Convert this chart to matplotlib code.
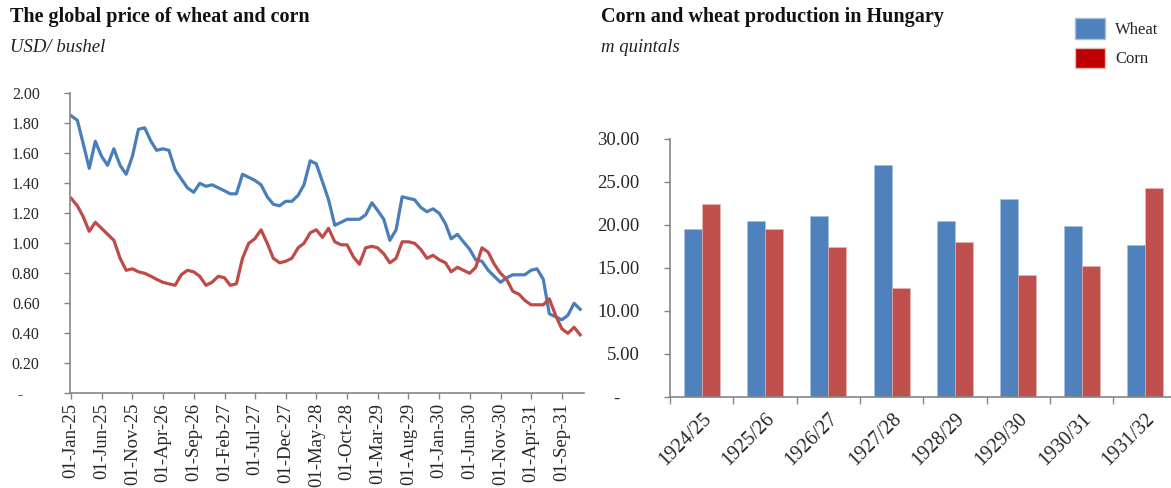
import matplotlib
matplotlib.use("Agg")
import matplotlib.pyplot as plt
import matplotlib.dates as mdates
from matplotlib.patches import Patch
from matplotlib.ticker import FixedLocator, FuncFormatter
import pandas as pd
import numpy as np

plt.rcParams['font.family'] = ['Liberation Serif', 'DejaVu Serif']

# ---- Data: global price (USD/bushel), monthly Jan 1925 - Dec 1931 ----
months = pd.date_range('1925-01-01', periods=84, freq='MS')
wheat_price = [1.85, 1.82, 1.67, 1.50, 1.68, 1.58, 1.52, 1.63, 1.52, 1.46,
               1.58, 1.76, 1.77, 1.68, 1.62, 1.63, 1.62, 1.49, 1.43, 1.37,
               1.34, 1.40, 1.38, 1.39, 1.37, 1.35, 1.33, 1.33, 1.46, 1.44,
               1.42, 1.39, 1.31, 1.26, 1.25, 1.28, 1.28, 1.32, 1.39, 1.55,
               1.53, 1.41, 1.29, 1.12, 1.14, 1.16, 1.16, 1.16, 1.19, 1.27,
               1.22, 1.16, 1.02, 1.09, 1.31, 1.30, 1.29, 1.24, 1.21, 1.23,
               1.20, 1.13, 1.03, 1.06, 1.01, 0.96, 0.89, 0.88, 0.82, 0.78,
               0.74, 0.77, 0.79, 0.79, 0.79, 0.82, 0.83, 0.76, 0.53, 0.51,
               0.49, 0.52, 0.60, 0.56]
corn_price = [1.30, 1.25, 1.18, 1.08, 1.14, 1.10, 1.06, 1.02, 0.90, 0.82,
              0.83, 0.81, 0.80, 0.78, 0.76, 0.74, 0.73, 0.72, 0.79, 0.82,
              0.81, 0.78, 0.72, 0.74, 0.78, 0.77, 0.72, 0.73, 0.90, 1.00,
              1.03, 1.09, 1.00, 0.90, 0.87, 0.88, 0.90, 0.97, 1.00, 1.07,
              1.09, 1.04, 1.10, 1.01, 0.99, 0.99, 0.91, 0.86, 0.97, 0.98,
              0.97, 0.93, 0.87, 0.90, 1.01, 1.01, 1.00, 0.96, 0.90, 0.92,
              0.89, 0.87, 0.81, 0.84, 0.82, 0.80, 0.84, 0.97, 0.94, 0.86,
              0.80, 0.76, 0.68, 0.66, 0.62, 0.59, 0.59, 0.59, 0.63, 0.52,
              0.43, 0.40, 0.44, 0.39]
price_ticks = [0.0, 0.2, 0.4, 0.6, 0.8, 1.0, 1.2, 1.4, 1.6, 1.8, 2.0]

# ---- Data: production in Hungary (m quintals) ----
seasons = ['1924/25', '1925/26', '1926/27', '1927/28',
           '1928/29', '1929/30', '1930/31', '1931/32']
wheat_prod = [19.5, 20.4, 21.0, 27.0, 20.4, 23.0, 19.8, 17.6]
corn_prod = [22.4, 19.5, 17.4, 12.6, 18.0, 14.1, 15.2, 24.3]
prod_ticks = [0, 5, 10, 15, 20, 25, 30]

BLUE_LINE = '#4A7EBB'
RED_LINE = '#BE4B48'
BLUE_BAR = '#4F81BD'
RED_BAR = '#C0504D'
RED_LEG = '#C00000'
AXIS = '#868686'
TXT = '#262626'

W, H = 1171, 488
fig = plt.figure(figsize=(W / 100, H / 100), dpi=100)

def fx(px):
    return px / W

def fy(py):
    return 1 - py / H

def fmt(v, _):
    return '-    ' if abs(v) < 1e-9 else f'{v:.2f}'

# ---- Left chart ----
ax1 = fig.add_axes([fx(70.3), fy(393.3), fx(584 - 70.3), (393.3 - 93.3) / H])
ax1.plot(months, wheat_price, color=BLUE_LINE, lw=2.3, solid_joinstyle='round')
ax1.plot(months, corn_price, color=RED_LINE, lw=2.3, solid_joinstyle='round')
ax1.set_ylim(0, 2.0)
ax1.set_xlim(pd.Timestamp('1924-12-28'), pd.Timestamp('1931-12-20'))
tick_dates = pd.date_range('1925-01-01', periods=17, freq='5MS')
ax1.xaxis.set_major_locator(FixedLocator(mdates.date2num(tick_dates)))
ax1.xaxis.set_major_formatter(mdates.DateFormatter('%d-%b-%y'))
ax1.yaxis.set_major_locator(FixedLocator(price_ticks))
ax1.yaxis.set_major_formatter(FuncFormatter(fmt))
for lab in ax1.get_xticklabels():
    lab.set_rotation(90)
ax1.tick_params(axis='x', length=4, width=1, color=AXIS, pad=3, labelsize=13.5, labelcolor=TXT)
ax1.tick_params(axis='y', length=4, width=1, color=AXIS, pad=18, labelsize=11.5, labelcolor=TXT)

# ---- Right chart ----
ax2 = fig.add_axes([fx(670), fy(396.7), fx(1176.6 - 670), (396.7 - 138.7) / H])
x = np.arange(len(seasons))
bw = 0.285
ax2.bar(x - bw / 2, wheat_prod, width=bw, color=BLUE_BAR, edgecolor='#A7BFDE', linewidth=0.4)
ax2.bar(x + bw / 2, corn_prod, width=bw, color=RED_BAR, edgecolor='#E6B9B8', linewidth=0.4)
ax2.set_xlim(-0.5, len(seasons) - 0.5)
ax2.set_ylim(0, 30)
ax2.set_xticks(np.arange(len(seasons) + 1) - 0.5)
ax2.set_xticklabels([])
ax2.set_xticks(x, minor=True)
ax2.set_xticklabels(seasons, minor=True, rotation=45, ha='right', rotation_mode='anchor')
ax2.yaxis.set_major_locator(FixedLocator(prod_ticks))
ax2.yaxis.set_major_formatter(FuncFormatter(fmt))
ax2.tick_params(axis='x', which='major', length=5, width=1, color=AXIS)
ax2.tick_params(axis='x', which='minor', length=0, pad=9, labelsize=14.5, labelcolor=TXT)
ax2.tick_params(axis='y', length=4, width=1, color=AXIS, pad=18, labelsize=13.5, labelcolor=TXT)

for ax in (ax1, ax2):
    for s in ('top', 'right'):
        ax.spines[s].set_visible(False)
    for s in ('left', 'bottom'):
        ax.spines[s].set_color(AXIS)
        ax.spines[s].set_linewidth(1.2)

# ---- Titles ----
fig.text(fx(10), fy(17), 'The global price of wheat and corn', fontsize=14.5,
         fontweight='bold', va='center', ha='left', color='#111111')
fig.text(fx(10), fy(47), 'USD/ bushel', fontsize=13.5, style='italic',
         va='center', ha='left', color='#222222')
fig.text(fx(601), fy(17), 'Corn and wheat production in Hungary', fontsize=14.5,
         fontweight='bold', va='center', ha='left', color='#111111')
fig.text(fx(601), fy(47), 'm quintals', fontsize=13.5, style='italic',
         va='center', ha='left', color='#222222')

handles = [Patch(facecolor=BLUE_BAR, edgecolor='#A7BFDE', label='Wheat'),
           Patch(facecolor=RED_LEG, edgecolor='#E6B9B8', label='Corn')]
fig.legend(handles=handles, loc='upper left', bbox_to_anchor=(fx(1067), fy(10)),
           frameon=False, fontsize=12, handlelength=1.8, handleheight=1.5,
           handletextpad=0.6, labelspacing=0.55, borderpad=0, labelcolor=TXT)

fig.savefig('out.png', dpi=100)
